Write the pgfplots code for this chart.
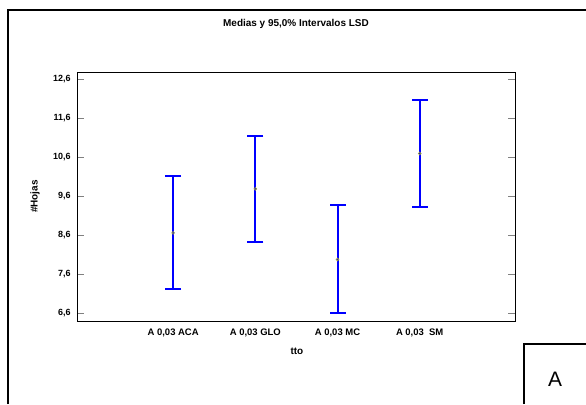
\documentclass[border=0pt]{standalone}
\usepackage{pgfplots}
\pgfplotsset{compat=1.18}
\usepackage{fontspec}
\setmainfont{Liberation Sans}
\definecolor{barblue}{RGB}{0,0,255}
\definecolor{meanol}{RGB}{150,150,60}
\begin{document}
\begin{tikzpicture}[x=1bp,y=1bp]
% outer frame (right and bottom edges lie outside the picture)
\draw[line width=2bp] (8,-404) -- (8,-10) -- (586,-10);
% letter box
\draw[line width=1.3bp] (524,-404) -- (524,-344) -- (586,-344);
\node[font=\fontsize{21}{24}\selectfont] at (555,-379) {A};
\begin{axis}[
  at={(77bp,-321bp)}, anchor=south west,
  scale only axis, width=438bp, height=249bp,
  xmin=-1.17, xmax=4.16,
  ymin=6.40, ymax=12.79,
  xtick={0,1,2,3},
  xticklabels={{A 0,03 ACA}, {A 0,03 GLO}, {A 0,03 MC}, {A 0,03 \ SM}},
  x tick style={draw=none},
  ytick={6.6,7.6,8.6,9.6,10.6,11.6,12.6},
  /pgf/number format/use comma,
  /pgf/number format/fixed,
  /pgf/number format/fixed zerofill,
  /pgf/number format/precision=1,
  /pgf/number format/assume math mode=true,
  tick align=inside,
  major tick length=7bp,
  ytick pos=both,
  y tick style={line width=0.6pt},
  axis line style={line width=0.8pt},
  xticklabel style={font=\bfseries\fontsize{9.5}{11}\selectfont, yshift=-4pt},
  yticklabel style={font=\bfseries\fontsize{9}{11}\selectfont, xshift=-3pt},
  title={Medias y 95,0\% Intervalos LSD},
  title style={font=\bfseries\fontsize{10}{12}\selectfont, at={(axis description cs:0.5,1.169)}, anchor=center},
  xlabel={tto},
  xlabel style={font=\bfseries\fontsize{10}{12}\selectfont, at={(axis description cs:0.502,-0.12)}, anchor=center},
  ylabel={\#Hojas},
  ylabel style={font=\bfseries\fontsize{10}{12}\selectfont, at={(axis description cs:-0.096,0.5)}, anchor=center},
  empty line=jump,
]
% LSD intervals (lower and upper limits)
\addplot[color=barblue, line width=2bp, mark=none] table[x=x, y=y] {
x y
0 7.21
0 10.11

1 8.43
1 11.15

2 6.60
2 9.37

3 9.33
3 12.07
};
% interval caps
\addplot[color=barblue, only marks, mark=-, mark size=8bp, mark options={line width=2bp}] table[x=x, y=y] {
x y
0 7.21
0 10.11
1 8.43
1 11.15
2 6.60
2 9.37
3 9.33
3 12.07
};
% means
\addplot[color=meanol, only marks, mark=o, mark size=1.4pt, mark options={line width=0.7pt}] table[x=x, y=y] {
x y
0 8.66
1 9.79
2 7.98
3 10.70
};
\end{axis}
\pgfresetboundingbox
\path (0,0) rectangle (586,-404);
\end{tikzpicture}
\end{document}
